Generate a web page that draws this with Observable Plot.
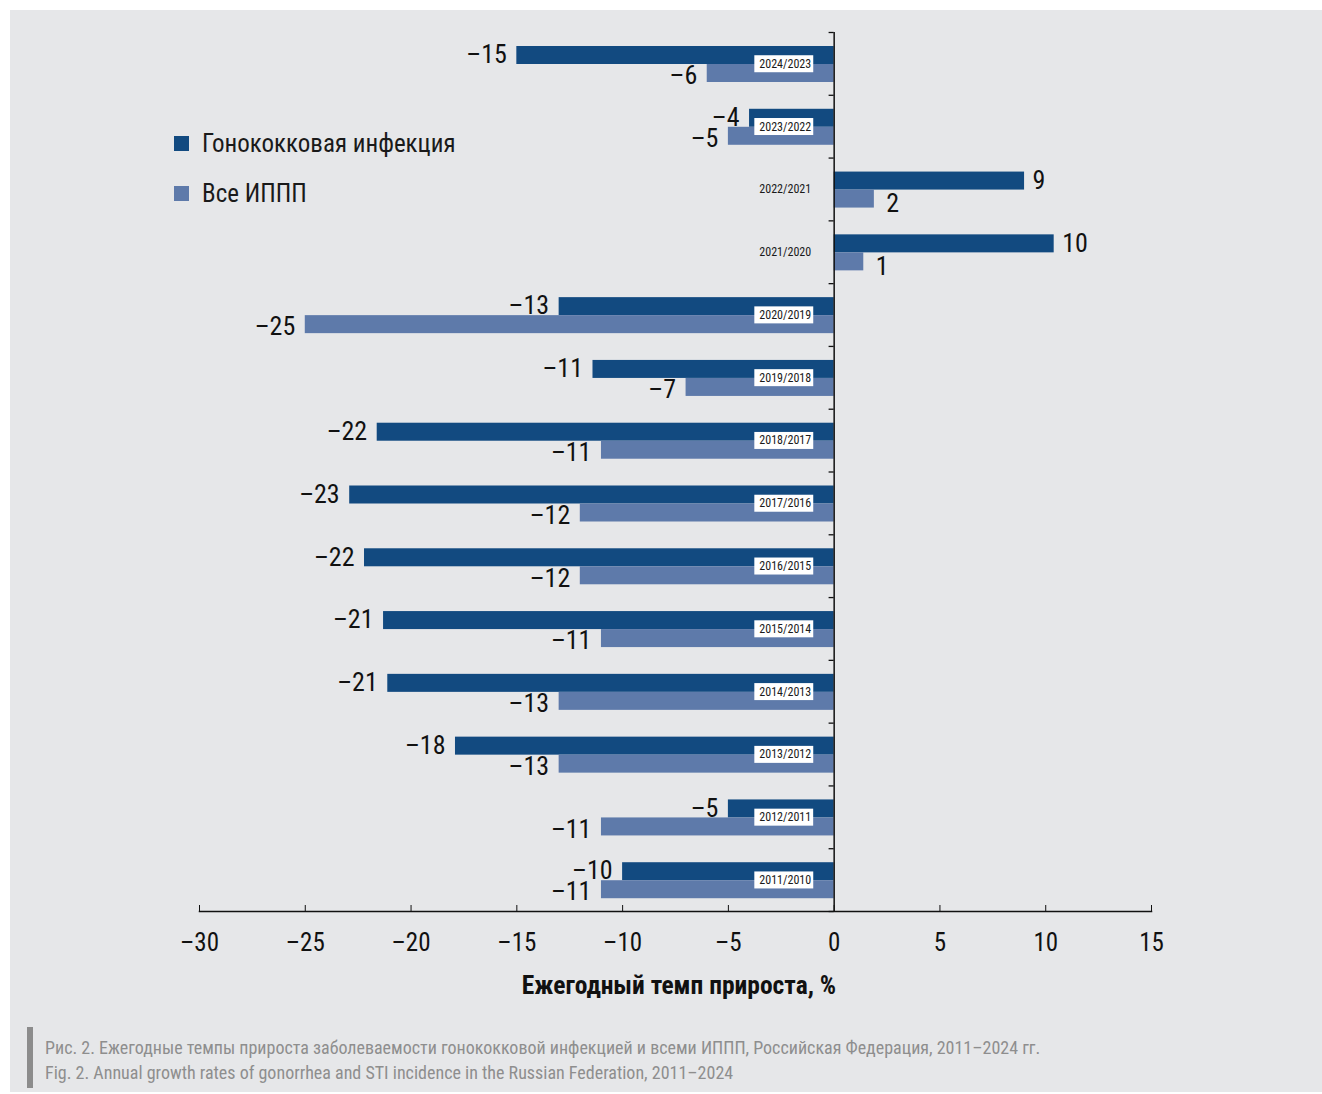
<!DOCTYPE html>
<html><head><meta charset="utf-8">
<script src="https://cdn.jsdelivr.net/npm/d3@7"></script>
<script src="https://cdn.jsdelivr.net/npm/@observablehq/plot@0.6"></script>
<style>
html,body{margin:0;padding:0;background:#fff;}
body{width:1322px;height:1094px;position:relative;overflow:hidden;font-family:"Liberation Sans Narrow","Roboto Condensed","DejaVu Sans Condensed","Arial Narrow",sans-serif;color:#111;}
#panel{position:absolute;left:10px;top:10px;width:1312px;height:1082px;background:#e6e7e9;}
#chart{position:absolute;left:0;top:0;}
#legend{position:absolute;left:174px;top:128px;}
.leg{display:flex;align-items:center;height:30px;margin-bottom:20px;font-size:25px;color:#1a1a1a;}
.sw{display:inline-block;width:15px;height:15px;margin-right:13px;}
#xtitle{position:absolute;left:429px;width:500px;top:970px;line-height:30px;text-align:center;font-weight:bold;font-size:25.5px;color:#111;}
#capbar{position:absolute;left:27px;top:1027px;width:6px;height:61px;background:#8c8c8c;}
#caption{position:absolute;left:45px;top:1035px;font-size:18px;line-height:25px;color:#8e8e8e;white-space:nowrap;}
</style></head>
<body>
<div id="panel"></div>
<div id="chart"></div>
<div id="legend"></div>
<div id="xtitle"></div>
<div id="capbar"></div>
<div id="caption"></div>
<script>
const periods = ["2024/2023","2023/2022","2022/2021","2021/2020","2020/2019","2019/2018","2018/2017","2017/2016","2016/2015","2015/2014","2014/2013","2013/2012","2012/2011","2011/2010"];
const gonorrhea = [-15.0, -4.0, 9.0, 10.4, -13.0, -11.4, -21.6, -22.9, -22.2, -21.3, -21.1, -17.9, -5.0, -10.0];
const allSTI = [-6.0, -5.0, 1.9, 1.4, -25.0, -7.0, -11.0, -12.0, -12.0, -11.0, -13.0, -13.0, -11.0, -11.0];
const xTicks = [-30, -25, -20, -15, -10, -5, 0, 5, 10, 15];
const seriesNames = ["Гонококковая инфекция", "Все ИППП"];
const seriesColors = ["#124a80", "#5e7aaa"];
const xTitle = "Ежегодный темп прироста, %";
const captionLines = [
  "Рис. 2. Ежегодные темпы прироста заболеваемости гонококковой инфекцией и всеми ИППП, Российская Федерация, 2011–2024 гг.",
  "Fig. 2. Annual growth rates of gonorrhea and STI incidence in the Russian Federation, 2011–2024"
];

const FONT = '"Liberation Sans Narrow","Roboto Condensed","DejaVu Sans Condensed","Arial Narrow",sans-serif';
const rows = periods.map((p, i) => ({period: p, g: gonorrhea[i], s: allSTI[i]}));
const W = 1322, H = 1000, mT = 32, mB = 89, mL = 199, mR = 171;
const bw = (H - mT - mB) / periods.length;
const fmt = v => v < 0 ? "\u2013" + Math.abs(v) : String(v);
const lab = v => fmt(Math.round(v));

const gDy = -9, sDy = 12;
const svg = Plot.plot({
  width: W, height: H, marginTop: mT, marginBottom: mB, marginLeft: mL, marginRight: mR,
  style: {background: "transparent", fontFamily: FONT, color: "#111", overflow: "visible"},
  x: {domain: [-30, 15], label: null},
  y: {domain: periods, padding: 0, round: false, axis: null},
  marks: [
    Plot.barX(rows, {x: "g", y: "period", fill: seriesColors[0], insetTop: 14, insetBottom: bw - 32}),
    Plot.barX(rows, {x: "s", y: "period", fill: seriesColors[1], insetTop: 32, insetBottom: bw - 50}),
    Plot.ruleX([0], {stroke: "#111", strokeWidth: 1.5}),
    Plot.ruleY(periods, {y: d => d, x1: -0.24, x2: 0, dy: -bw / 2, stroke: "#111", strokeWidth: 1.3}),
    Plot.ruleY(periods.slice(-1), {y: d => d, x1: -0.24, x2: 0, dy: bw / 2, stroke: "#111", strokeWidth: 1.3}),
    Plot.frame({anchor: "bottom", stroke: "#111", strokeWidth: 1.5}),
    Plot.axisX({ticks: xTicks, tickFormat: fmt, tickSize: -6, tickPadding: 28, fontSize: 25, fill: "#111", stroke: "#111", label: null}),
    Plot.text(rows.filter(d => d.g < 0), {x: "g", y: "period", text: d => lab(d.g), dy: gDy, dx: -10, textAnchor: "end", fontSize: 26, fill: "#111"}),
    Plot.text(rows.filter(d => d.g >= 0), {x: "g", y: "period", text: d => lab(d.g), dy: gDy, dx: 8, textAnchor: "start", fontSize: 26, fill: "#111"}),
    Plot.text(rows.filter(d => d.s < 0), {x: "s", y: "period", text: d => lab(d.s), dy: sDy, dx: -10, textAnchor: "end", fontSize: 26, fill: "#111"}),
    Plot.text(rows.filter(d => d.s >= 0), {x: "s", y: "period", text: d => lab(d.s), dy: sDy + 2, dx: 12, textAnchor: "start", fontSize: 26, fill: "#111"}),
    Plot.text(rows.filter(d => d.g < 0), {x: 0, y: "period", text: "period", dx: -23, textAnchor: "end", fontSize: 12, fill: "#1a1a1a", ariaDescription: "yearbox"}),
    Plot.text(rows.filter(d => d.g >= 0), {x: 0, y: "period", text: "period", dx: -23, textAnchor: "end", fontSize: 12, fill: "#1a1a1a"})
  ]
});
document.getElementById("chart").append(svg);
svg.querySelectorAll('g[aria-description="yearbox"] text').forEach(t => {
  const b = t.getBBox();
  const r = document.createElementNS("http://www.w3.org/2000/svg", "rect");
  r.setAttribute("x", b.x - 5);
  r.setAttribute("y", b.y - 1.5);
  r.setAttribute("width", b.width + 7);
  r.setAttribute("height", b.height + 3);
  r.setAttribute("fill", "#fff");
  const tr = t.getAttribute("transform");
  if (tr) r.setAttribute("transform", tr);
  t.parentNode.insertBefore(r, t);
});

const leg = document.getElementById("legend");
seriesNames.forEach((n, i) => {
  const d = document.createElement("div");
  d.className = "leg";
  const s = document.createElement("span");
  s.className = "sw";
  s.style.background = seriesColors[i];
  d.append(s, document.createTextNode(n));
  leg.append(d);
});
document.getElementById("xtitle").textContent = xTitle;
const cap = document.getElementById("caption");
captionLines.forEach(l => { const d = document.createElement("div"); d.textContent = l; cap.append(d); });
</script>
</body></html>
